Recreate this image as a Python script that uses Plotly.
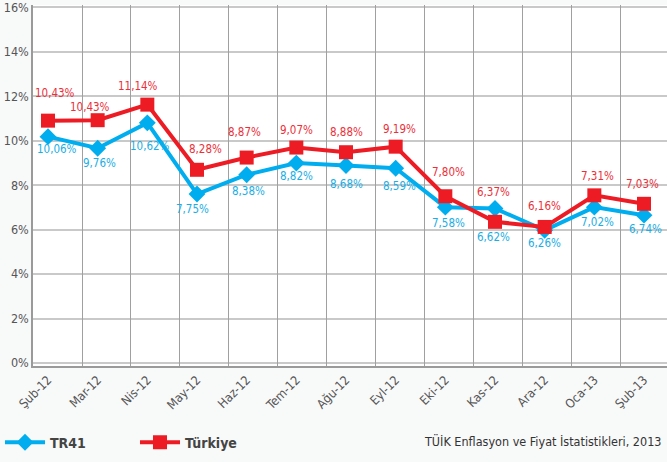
import plotly.graph_objects as go

months = ["Şub-12", "Mar-12", "Nis-12", "May-12", "Haz-12", "Tem-12", "Ağu-12",
          "Eyl-12", "Eki-12", "Kas-12", "Ara-12", "Oca-13", "Şub-13"]

# plotted positions
tr41_values = [10.18, 9.66, 10.80, 7.60, 8.47, 8.99, 8.88, 8.76, 7.01, 6.95, 5.97, 7.01, 6.65]
turkiye_values = [10.90, 10.92, 11.62, 8.69, 9.24, 9.69, 9.48, 9.73, 7.50, 6.35, 6.12, 7.54, 7.16]

# data labels as printed on the chart
tr41_labels = ["10,06%", "9,76%", "10,62%", "7,75%", "8,38%", "8,82%", "8,68%",
               "8,59%", "7,58%", "6,62%", "6,26%", "7,02%", "6,74%"]
turkiye_labels = ["10,43%", "10,43%", "11,14%", "8,28%", "8,87%", "9,07%", "8,88%",
                  "9,19%", "7,80%", "6,37%", "6,16%", "7,31%", "7,03%"]

y_ticks = [0, 2, 4, 6, 8, 10, 12, 14, 16]

# label offsets in pixels (style)
tr41_off = [(9, -12), (2, -15), (3, -23), (-5, -15), (2, -16), (0, -13), (0, -18),
            (4, -18), (3, -16), (-2, -29), (0, -13), (3, -15), (1, -14)]
tk_off = [(7, 28), (-8, 13), (-9, 19), (8, 21), (-2, 26), (0, 18), (0, 20),
          (4, 18), (3, 24), (-2, 30), (0, 21), (3, 19), (-2, 20)]

RED = "#ed1c24"
BLUE = "#00aeef"
FONT = "DejaVu Sans Condensed, Liberation Sans Narrow, Roboto, sans-serif"

xi = list(range(len(months)))

fig = go.Figure()
xr = [-0.302, 12.463]
grid_x = [xr[0] + 0.9865 * k for k in range(1, 13)]

# invisible trace to activate the xaxis2 grid (category borders)
fig.add_trace(go.Scatter(x=[xr[0]], y=[-1], xaxis="x2", mode="markers",
                         marker=dict(opacity=0), showlegend=False, hoverinfo="skip"))
fig.add_trace(go.Scatter(
    x=xi, y=tr41_values, name="TR41", mode="lines+markers",
    line=dict(color=BLUE, width=4),
    marker=dict(symbol="diamond", size=13, color=BLUE),
))
fig.add_trace(go.Scatter(
    x=xi, y=turkiye_values, name="Türkiye", mode="lines+markers",
    line=dict(color=RED, width=4),
    marker=dict(symbol="square", size=14, color=RED),
))

annotations = []
for i, (v, t) in enumerate(zip(tr41_values, tr41_labels)):
    annotations.append(dict(x=i, y=v, text=t, showarrow=False,
                            xshift=tr41_off[i][0], yshift=tr41_off[i][1],
                            font=dict(family=FONT, size=11.5, color="#1aaee5")))
for i, (v, t) in enumerate(zip(turkiye_values, turkiye_labels)):
    annotations.append(dict(x=i, y=v, text=t, showarrow=False,
                            xshift=tk_off[i][0], yshift=tk_off[i][1],
                            font=dict(family=FONT, size=11.5, color="#ec3039")))
annotations.append(dict(
    xref="paper", yref="paper", x=0.993, y=-0.208, xanchor="right", yanchor="middle",
    text="TÜİK Enflasyon ve Fiyat İstatistikleri, 2013", showarrow=False,
    font=dict(family=FONT, size=12.5, color="#333333")))

fig.update_layout(
    width=667, height=462,
    margin=dict(l=33, r=0, t=1, b=96),
    paper_bgcolor="#f8f9f9",
    plot_bgcolor="#ffffff",
    font=dict(family=FONT, size=12, color="#555555"),
    showlegend=True,
    legend=dict(orientation="h", xref="container", yref="container",
                x=0.0, y=0.042, xanchor="left", yanchor="middle",
                font=dict(family=FONT, size=14, color="#444444", weight="bold"),
                itemwidth=40, entrywidth=80, bgcolor="rgba(0,0,0,0)"),
    xaxis=dict(range=xr, tickmode="array", tickvals=xi, ticktext=months,
               tickangle=-45, showgrid=False, zeroline=False,
               showline=True, linecolor="#9a9a9a", linewidth=1.5,
               ticks="", tickfont=dict(size=12.5, color="#555555")),
    xaxis2=dict(range=xr, overlaying="x", tickmode="array", tickvals=grid_x,
                showticklabels=False, showgrid=True, gridcolor="#a0a0a0",
                gridwidth=1, zeroline=False, ticks=""),
    yaxis=dict(range=[-0.133, 16.1], tickmode="array", tickvals=y_ticks,
               ticktext=[f"{v}%" for v in y_ticks], ticklabeloverflow="allow",
               showgrid=True, gridcolor="#c9c9c9", gridwidth=1.5,
               zeroline=False, showline=True, linecolor="#9a9a9a", linewidth=1.5,
               ticks="", tickfont=dict(size=12.5, color="#555555")),
    annotations=annotations,
)

fig.write_html("out.html", config={"displayModeBar": False},
               post_script="document.body.style.margin='0px';")
